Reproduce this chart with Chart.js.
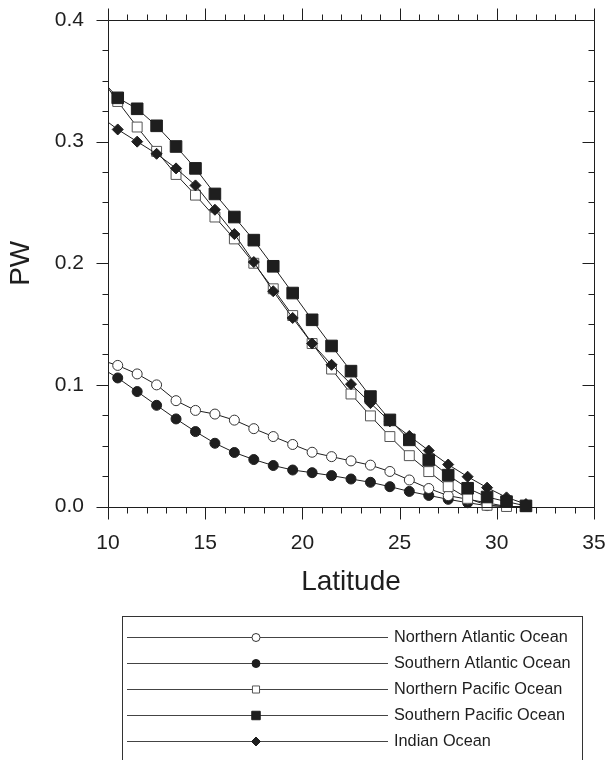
<!DOCTYPE html>
<html>
<head>
<meta charset="utf-8">
<script src="https://cdn.jsdelivr.net/npm/chart.js@4"></script>
<style>
  html, body { margin: 0; padding: 0; background: #fff; }
  #wrap { width: 606px; height: 760px; }
</style>
</head>
<body>
<div id="wrap"><canvas id="chart" width="606" height="760"></canvas></div>
<script>
// latitude of each value; the first one (9.5) only carries the line to the left edge
const latitudes = [9.5, 10.5, 11.5, 12.5, 13.5, 14.5, 15.5, 16.5, 17.5, 18.5, 19.5, 20.5,
    21.5, 22.5, 23.5, 24.5, 25.5, 26.5, 27.5, 28.5, 29.5, 30.5, 31.5];

const northAtlantic = [0.121, 0.116, 0.109, 0.100, 0.087, 0.079, 0.076, 0.071, 0.064, 0.0575,
    0.051, 0.0446, 0.041, 0.0375, 0.034, 0.0288, 0.0218, 0.0148, 0.0089, 0.006, 0.003, 0.0, 0.0];
const southAtlantic = [0.1155, 0.1057, 0.0945, 0.0832, 0.072, 0.0616, 0.052, 0.0444, 0.0386, 0.0337,
    0.030, 0.0278, 0.0254, 0.0226, 0.0199, 0.0163, 0.0124, 0.0091, 0.0059, 0.0031, 0.0007, 0.0, 0.0];
const northPacific = [0.355, 0.333, 0.312, 0.292, 0.273, 0.256, 0.238, 0.220, 0.200, 0.179,
    0.157, 0.134, 0.113, 0.0925, 0.0745, 0.0575, 0.0418, 0.0287, 0.0163, 0.0067, 0.001, 0.0, 0.0];
const southPacific = [0.354, 0.336, 0.327, 0.313, 0.296, 0.278, 0.257, 0.238, 0.219, 0.1975,
    0.1755, 0.1535, 0.132, 0.1113, 0.0904, 0.0712, 0.0548, 0.0383, 0.0258, 0.015, 0.0078, 0.004, 0.0005];
const indianOcean = [0.322, 0.310, 0.300, 0.290, 0.278, 0.264, 0.244, 0.224, 0.201, 0.177,
    0.155, 0.134, 0.1165, 0.1006, 0.085, 0.070, 0.058, 0.046, 0.0345, 0.0245, 0.0155, 0.0075, 0.002];

const seriesNames = ['Northern Atlantic Ocean', 'Southern Atlantic Ocean', 'Northern Pacific Ocean',
    'Southern Pacific Ocean', 'Indian Ocean'];

const xTicks = { min: 10, max: 35, major: 5, minor: 1 };
const yTicks = { min: 0, max: 0.4, major: 0.1, minor: 0.025 };

const FONT = "'Liberation Sans', Arial, Helvetica, sans-serif";
const INK = '#1e1e1e';

function toXY(values) {
    let pts = [];
    for (let i = 0; i < values.length; i++) {
        pts.push({ x: latitudes[i], y: values[i] });
    }
    return pts;
}

// marker style per series: [pointStyle, radius, fill, border, legend radius]
const markers = [
    ['circle', 5, '#ffffff', '#333333', 4],
    ['circle', 5, INK, INK, 4],
    ['rect', 7, '#ffffff', '#555555', 5],
    ['rect', 8.2, INK, INK, 6],
    ['rectRot', 5.5, INK, INK, 4.5],
];
const allSeries = [northAtlantic, southAtlantic, northPacific, southPacific, indianOcean];
const drawOrder = [3, 4, 2, 0, 1];

let datasets = [];
for (let i = 0; i < allSeries.length; i++) {
    let m = markers[i];
    datasets.push({
        label: seriesNames[i],
        data: toXY(allSeries[i]),
        borderColor: INK,
        borderWidth: 1,
        backgroundColor: m[2],
        pointStyle: m[0],
        pointRadius: (c) => c.dataIndex === 0 ? 0 : m[1],
        pointBackgroundColor: m[2],
        pointBorderColor: m[3],
        pointBorderWidth: 1,
        legendRadius: m[4],
        tension: 0,
        fill: false,
        order: drawOrder[i],
        clip: { left: 0, top: false, right: false, bottom: false },
    });
}

// box with outward ticks on left/top/bottom and inward ticks on the right
const frameTicks = {
    id: 'frameTicks',
    afterDatasetsDraw(chart) {
        const ctx = chart.ctx;
        const a = chart.chartArea;
        const xs = chart.scales.x, ys = chart.scales.y;
        const MAJOR = 12, MINOR = 6;
        ctx.save();
        ctx.strokeStyle = INK;
        ctx.lineWidth = 1;
        ctx.beginPath();
        const L = Math.round(a.left) + 0.5, R = Math.round(a.right) + 0.5;
        const T = Math.round(a.top) + 0.5, B = Math.round(a.bottom) + 0.5;
        ctx.rect(L, T, R - L, B - T);
        let nx = Math.round((xTicks.max - xTicks.min) / xTicks.minor);
        for (let i = 0; i <= nx; i++) {
            let v = xTicks.min + i * xTicks.minor;
            let px = Math.round(xs.getPixelForValue(v)) + 0.5;
            let len = (i % Math.round(xTicks.major / xTicks.minor) === 0) ? MAJOR : MINOR;
            ctx.moveTo(px, B); ctx.lineTo(px, B + len);
            ctx.moveTo(px, T); ctx.lineTo(px, T - len);
        }
        let ny = Math.round((yTicks.max - yTicks.min) / yTicks.minor);
        for (let i = 0; i <= ny; i++) {
            let v = yTicks.min + i * yTicks.minor;
            let py = Math.round(ys.getPixelForValue(v)) + 0.5;
            let len = (i % Math.round(yTicks.major / yTicks.minor) === 0) ? MAJOR : MINOR;
            ctx.moveTo(L - len, py); ctx.lineTo(L, py);
            ctx.moveTo(R - len, py); ctx.lineTo(R, py);
        }
        ctx.stroke();
        ctx.restore();
    }
};

// legend box under the plot: line with marker in the middle, then the name
const lineLegend = {
    id: 'lineLegend',
    afterDraw(chart) {
        const ctx = chart.ctx;
        const box = { left: 122, top: 616, right: 582, bottom: 775 };
        const rowTop = 637, rowGap = 26;
        const lineStart = 127, lineEnd = 388, markX = 256, textX = 394;
        ctx.save();
        ctx.strokeStyle = '#333';
        ctx.lineWidth = 1;
        ctx.strokeRect(box.left + 0.5, box.top + 0.5, box.right - box.left, box.bottom - box.top);
        ctx.font = '16.3px ' + FONT;
        ctx.textBaseline = 'middle';
        ctx.fillStyle = INK;
        chart.data.datasets.forEach((ds, i) => {
            let yy = Math.round(rowTop + i * rowGap) + 0.5;
            ctx.beginPath();
            ctx.strokeStyle = '#444';
            ctx.moveTo(lineStart, yy);
            ctx.lineTo(lineEnd, yy);
            ctx.stroke();
            ctx.fillStyle = ds.pointBackgroundColor;
            ctx.strokeStyle = ds.pointBorderColor;
            Chart.helpers.drawPoint(ctx, {
                pointStyle: ds.pointStyle,
                radius: ds.legendRadius,
                borderWidth: 1,
                rotation: 0
            }, markX, yy);
            ctx.fillStyle = INK;
            ctx.fillText(ds.label, textX, yy);
        });
        ctx.restore();
    }
};

const config = {
    type: 'line',
    data: { datasets: datasets },
    options: {
        responsive: false,
        animation: false,
        events: [],
        layout: { padding: { top: 20, right: 12, bottom: 161, left: 0 } },
        plugins: {
            legend: { display: false },
            tooltip: { enabled: false },
        },
        scales: {
            x: {
                type: 'linear',
                min: xTicks.min,
                max: xTicks.max,
                grid: { display: false, drawTicks: false },
                border: { display: false },
                ticks: {
                    stepSize: xTicks.major,
                    padding: 24,
                    maxRotation: 0,
                    autoSkip: false,
                    color: INK,
                    font: { family: FONT, size: 21 },
                },
                title: {
                    display: true,
                    text: 'Latitude',
                    color: INK,
                    padding: 0,
                    font: { family: FONT, size: 28 },
                },
                afterFit: (scale) => {
                    scale.height = 92.5;
                    scale.paddingLeft = 0;
                    scale.paddingRight = 0;
                },
            },
            y: {
                type: 'linear',
                min: yTicks.min,
                max: yTicks.max,
                grid: { display: false, drawTicks: false },
                border: { display: false },
                ticks: {
                    stepSize: yTicks.major,
                    padding: 24,
                    color: INK,
                    font: { family: FONT, size: 21 },
                    callback: (v) => Number(v).toFixed(1),
                },
                title: {
                    display: true,
                    text: 'PW',
                    color: INK,
                    padding: { top: 4, bottom: 0 },
                    font: { family: FONT, size: 28 },
                },
                afterFit: (scale) => {
                    scale.width = 108;
                    scale.paddingTop = 0;
                    scale.paddingBottom = 0;
                },
            },
        },
    },
    plugins: [frameTicks, lineLegend],
};

const ctx = document.getElementById('chart').getContext('2d');
window.pwChart = new Chart(ctx, config);
</script>
</body>
</html>
